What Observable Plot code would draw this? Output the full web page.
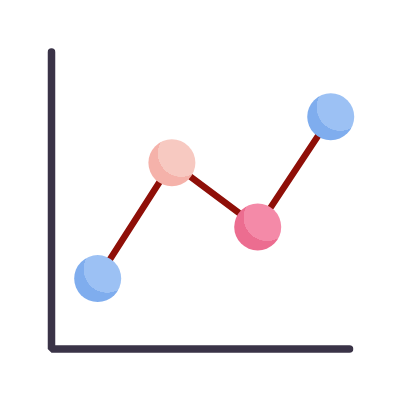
<!DOCTYPE html>
<html>
<head>
<meta charset="utf-8">
<style>html,body{margin:0;padding:0;background:#fff;overflow:hidden}svg{display:block}</style>
<script src="https://cdn.jsdelivr.net/npm/d3@7"></script>
<script src="https://cdn.jsdelivr.net/npm/@observablehq/plot@0.6"></script>
</head>
<body>
<script>
const xValues = [15.5, 40.4, 69.2, 93.7];
const yValues = [23.7, 62.7, 41.1, 78.2];
const lightColors = ["#9cc1f4", "#f7c9c1", "#f48aa8", "#9cc1f4"];
const darkColors = ["#7fadee", "#f5b2aa", "#ec6d90", "#7fadee"];
const axisX = [0, 0, 100];
const axisY = [100, 0, 0];

const points = xValues.map((x, i) => ({x, y: yValues[i], i}));
const axisPath = axisX.map((x, i) => ({x, y: axisY[i]}));

function gradients() {
  const defs = d3.create("svg:defs");
  lightColors.forEach((light, i) => {
    const g = defs.append("radialGradient").attr("id", `ball${i}`)
      .attr("cx", 0.7).attr("cy", 0.3).attr("r", 0.5);
    g.append("stop").attr("offset", "99.5%").attr("stop-color", light);
    g.append("stop").attr("offset", "100%").attr("stop-color", darkColors[i]);
  });
  return defs.node();
}

const chart = Plot.plot({
  width: 400,
  height: 400,
  marginLeft: 51,
  marginRight: 51,
  marginTop: 51.5,
  marginBottom: 51.5,
  style: {background: "#fff"},
  x: {domain: [0, 100], axis: null},
  y: {domain: [0, 100], axis: null},
  color: {type: "identity"},
  marks: [
    gradients,
    Plot.line(axisPath, {x: "x", y: "y", stroke: "#3a3347", strokeWidth: 7.5, strokeLinecap: "round", strokeLinejoin: "miter"}),
    Plot.line(points, {x: "x", y: "y", stroke: "#8f0f08", strokeWidth: 6.5}),
    Plot.dot(points, {x: "x", y: "y", r: 23.5, fill: d => `url(#ball${d.i})`, stroke: "none"})
  ]
});
document.body.appendChild(chart);
</script>
</body>
</html>
